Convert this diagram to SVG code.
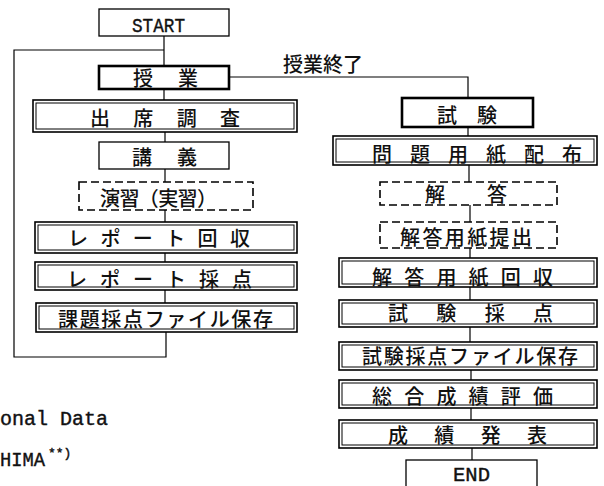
<svg xmlns="http://www.w3.org/2000/svg" width="604" height="486" viewBox="0 0 604 486">
<style>
.bg{fill:#fff}
.box{fill:none;stroke:#000;stroke-width:1.3}
.thick{fill:none;stroke:#000;stroke-width:2.6}
.dbo{fill:none;stroke:#000;stroke-width:1.6}
.dbi{fill:none;stroke:#000;stroke-width:1}
.dash{fill:none;stroke:#000;stroke-width:1.6;stroke-dasharray:8 4}
.conn{fill:none;stroke:#000;stroke-width:1.2}
.jp{font-family:"Noto Sans CJK JP","Noto Sans CJK SC",sans-serif;font-size:20px;font-weight:500;fill:#111;dominant-baseline:central}
.lat{font-family:"Liberation Mono",monospace;font-size:20px;fill:#111;stroke:#111;stroke-width:0.4}
</style>
<rect class="bg" x="0" y="0" width="604" height="486"/>
<g id="connectors">
<polyline class="conn" points="164,36 164,66"/>
<polyline class="conn" points="164,50 14,50 14,357 166,357 166,332"/>
<polyline class="conn" points="164,89 164,100"/>
<polyline class="conn" points="165,132 165,142"/>
<polyline class="conn" points="165,169 165,182"/>
<polyline class="conn" points="165,210 165,222"/>
<polyline class="conn" points="165,253 165,262"/>
<polyline class="conn" points="165,290 165,303"/>
<polyline class="conn" points="229,77 468,77 468,98"/>
<polyline class="conn" points="468,127 468,136"/>
<polyline class="conn" points="469,165 469,182"/>
<polyline class="conn" points="470,205 470,222"/>
<polyline class="conn" points="470,248 470,258"/>
<polyline class="conn" points="470,287 470,300"/>
<polyline class="conn" points="470,327 470,342"/>
<polyline class="conn" points="471,370 471,380"/>
<polyline class="conn" points="471,408 471,420"/>
<polyline class="conn" points="472,448 472,460"/>
<text class="jp" x="283" y="63">授業終了</text>
</g>
<g id="start"><rect class="box" x="99" y="9" width="130" height="27"/><text class="lat" x="132" y="32" font-size="23" textLength="53" lengthAdjust="spacingAndGlyphs">START</text></g>
<g id="jugyo"><rect class="thick" x="99" y="66" width="130" height="23"/><text class="jp" x="133" y="77.5" textLength="65">授業</text></g>
<g id="shusseki"><rect class="dbo" x="33" y="100" width="264" height="32"/><rect class="dbi" x="36" y="103" width="258" height="26"/><text class="jp" x="90" y="117" textLength="150">出席調査</text></g>
<g id="kougi"><rect class="box" x="99" y="142" width="130" height="27"/><text class="jp" x="132" y="156" textLength="65">講義</text></g>
<g id="enshu"><rect class="dash" x="79" y="182" width="174" height="28"/><text class="jp" x="100" y="197" textLength="117">演習（実習）</text></g>
<g id="report-kaishu"><rect class="dbo" x="35" y="222" width="262" height="31"/><rect class="dbi" x="38" y="225" width="256" height="25"/><text class="jp" x="68" y="237" textLength="182">レポート回収</text></g>
<g id="report-saiten"><rect class="dbo" x="35" y="262" width="262" height="28"/><rect class="dbi" x="38" y="265" width="256" height="22"/><text class="jp" x="67" y="278" textLength="185">レポート採点</text></g>
<g id="kadai-hozon"><rect class="dbo" x="36" y="303" width="261" height="29"/><rect class="dbi" x="39" y="306" width="255" height="23"/><text class="jp" x="58" y="318" textLength="215">課題採点ファイル保存</text></g>
<g id="shiken"><rect class="thick" x="402" y="98" width="131" height="29"/><text class="jp" x="437" y="114" textLength="60">試験</text></g>
<g id="mondai"><rect class="dbo" x="333" y="136" width="264" height="29"/><rect class="dbi" x="336" y="139" width="258" height="23"/><text class="jp" x="372" y="153" textLength="210">問題用紙配布</text></g>
<g id="kaitou"><rect class="dash" x="380" y="182" width="177" height="23"/><text class="jp" x="425" y="193.5" textLength="82">解答</text></g>
<g id="kaitou-teishutsu"><rect class="dash" x="380" y="222" width="177" height="26"/><text class="jp" x="400" y="236" textLength="132">解答用紙提出</text></g>
<g id="kaitou-kaishu"><rect class="dbo" x="339" y="258" width="258" height="29"/><rect class="dbi" x="342" y="261" width="252" height="23"/><text class="jp" x="372" y="276" textLength="181">解答用紙回収</text></g>
<g id="shiken-saiten"><rect class="dbo" x="339" y="300" width="258" height="27"/><rect class="dbi" x="342" y="303" width="252" height="21"/><text class="jp" x="388" y="312" textLength="165">試験採点</text></g>
<g id="shiken-hozon"><rect class="dbo" x="339" y="342" width="258" height="28"/><rect class="dbi" x="342" y="345" width="252" height="22"/><text class="jp" x="362" y="355" textLength="216">試験採点ファイル保存</text></g>
<g id="sougou"><rect class="dbo" x="339" y="380" width="258" height="28"/><rect class="dbi" x="342" y="383" width="252" height="22"/><text class="jp" x="372" y="395" textLength="181">総合成績評価</text></g>
<g id="happyou"><rect class="dbo" x="339" y="420" width="258" height="28"/><rect class="dbi" x="342" y="423" width="252" height="22"/><text class="jp" x="388" y="434" textLength="159">成績発表</text></g>
<g id="end"><rect class="box" x="406" y="460" width="131" height="30"/><text class="lat" x="453" y="481" textLength="37" lengthAdjust="spacingAndGlyphs">END</text></g>
<text class="lat" x="0" y="425" textLength="108" lengthAdjust="spacingAndGlyphs">onal Data</text>
<text class="lat" x="0" y="466"><tspan textLength="45" lengthAdjust="spacingAndGlyphs">HIMA</tspan><tspan x="48" dy="-9" font-size="13">**)</tspan></text>
</svg>
